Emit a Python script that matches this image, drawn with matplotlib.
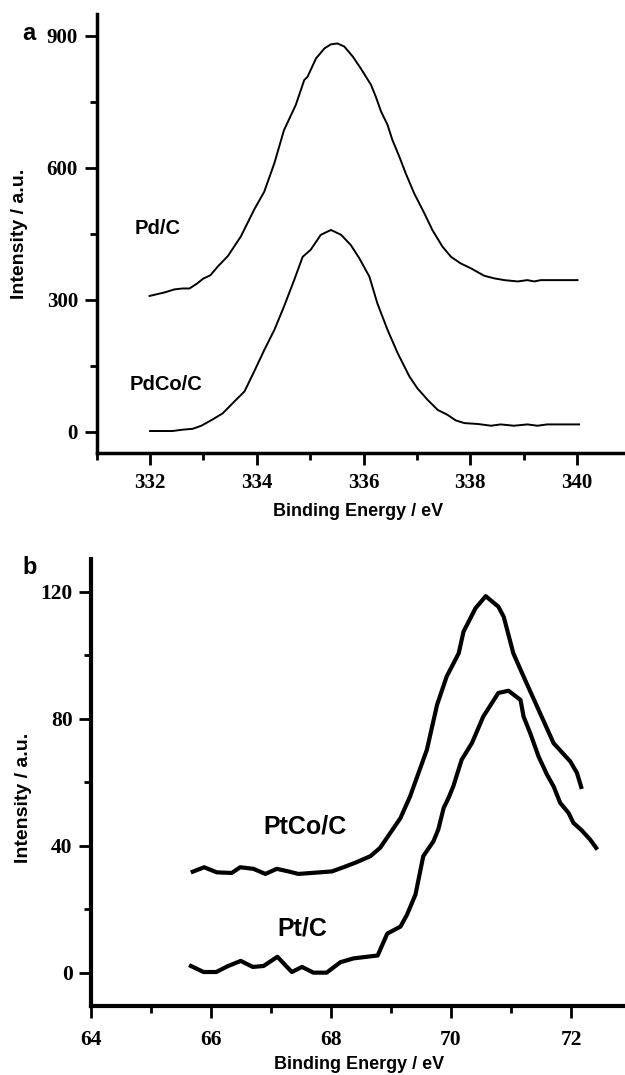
"""
XPS spectra of Pd 3d (panel a) and Pt 4f (panel b) for carbon supported catalysts
"""
import matplotlib
matplotlib.use("Agg")
import matplotlib.pyplot as plt
from matplotlib.ticker import MultipleLocator

# Panel a: Pd 3d region
pd_c_energy = [331.99, 332.27, 332.46, 332.61, 332.74, 332.89, 332.99, 333.13, 333.27, 333.46,
               333.70, 333.95, 334.14, 334.33, 334.51, 334.73, 334.89, 334.95, 335.11, 335.27,
               335.39, 335.51, 335.64, 335.80, 335.95, 336.14, 336.23, 336.33, 336.45, 336.54,
               336.67, 336.79, 336.95, 337.14, 337.29, 337.48, 337.64, 337.82, 338.01, 338.26,
               338.45, 338.64, 338.89, 339.07, 339.20, 339.32, 340.01]
pd_c_intensity = [309, 317, 324, 326, 326, 338, 348, 356, 376, 400,
                  444, 505, 546, 611, 686, 743, 800, 807, 849, 872,
                  881, 883, 876, 853, 826, 789, 762, 728, 698, 664,
                  626, 588, 542, 497, 459, 421, 398, 383, 372, 355,
                  349, 345, 342, 345, 342, 345, 345]

pdco_c_energy = [332.00, 332.42, 332.61, 332.80, 332.96, 333.14, 333.36, 333.58, 333.77, 333.95,
                 334.14, 334.33, 334.51, 334.70, 334.86, 335.01, 335.20, 335.39, 335.58, 335.76,
                 335.92, 336.11, 336.26, 336.45, 336.64, 336.86, 337.01, 337.20, 337.39, 337.57,
                 337.73, 337.89, 338.14, 338.39, 338.57, 338.82, 339.07, 339.26, 339.44, 340.04]
pdco_c_intensity = [2, 2, 5, 7, 14, 26, 42, 69, 92, 137,
                    186, 232, 285, 345, 398, 414, 448, 459, 448, 425,
                    395, 353, 292, 232, 179, 126, 99, 73, 50, 39,
                    26, 20, 18, 14, 17, 14, 17, 14, 17, 17]

# Panel b: Pt 4f region
ptco_c_energy = [65.70, 65.89, 66.10, 66.35, 66.49, 66.71, 66.91, 67.10, 67.29, 67.46,
                 67.82, 68.02, 68.21, 68.43, 68.66, 68.82, 68.99, 69.16, 69.32, 69.43,
                 69.60, 69.77, 69.93, 70.13, 70.21, 70.41, 70.58, 70.79, 70.88, 71.04,
                 71.21, 71.46, 71.71, 71.99, 72.10, 72.17]
ptco_c_intensity = [31.8, 33.2, 31.6, 31.4, 33.2, 32.7, 31.1, 32.7, 31.9, 31.1,
                    31.6, 31.9, 33.2, 34.8, 36.7, 39.3, 44.0, 48.7, 55.5, 61.3,
                    70.2, 84.4, 93.3, 100.6, 107.4, 114.8, 118.6, 115.3, 112.1, 100.6,
                    93.3, 82.8, 72.3, 66.5, 62.9, 58.5]

pt_c_energy = [65.67, 65.88, 66.09, 66.29, 66.50, 66.70, 66.88, 67.11, 67.35, 67.52,
               67.71, 67.93, 68.16, 68.38, 68.60, 68.78, 68.94, 69.16, 69.27, 69.41,
               69.54, 69.71, 69.79, 69.88, 69.96, 70.04, 70.18, 70.35, 70.54, 70.79,
               70.96, 71.16, 71.21, 71.32, 71.46, 71.60, 71.71, 71.82, 71.96, 72.04,
               72.18, 72.32, 72.42]
pt_c_intensity = [2.1, 0.2, 0.2, 2.1, 3.7, 1.8, 2.1, 5.0, 0.2, 1.8,
                  0.0, 0.0, 3.3, 4.5, 5.0, 5.4, 12.3, 14.5, 18.3, 24.6,
                  36.7, 41.4, 45.1, 51.9, 55.0, 58.7, 67.1, 72.3, 80.7, 88.1,
                  88.8, 85.9, 80.7, 75.5, 68.1, 62.4, 58.7, 53.5, 50.3, 47.2,
                  44.8, 41.9, 39.3]

TICK_FONT = "Liberation Serif"
LABEL_FONT = "Liberation Sans"


def style_axes(ax, spine_w, tick_size, xpad, ypad):
    """Origin-like axes: only left and bottom spines, outward ticks"""
    ax.spines["top"].set_visible(False)
    ax.spines["right"].set_visible(False)
    for side in ("left", "bottom"):
        ax.spines[side].set_linewidth(spine_w)
    ax.tick_params(which="major", direction="out", length=8.5, width=2.0,
                   labelsize=tick_size)
    ax.tick_params(which="minor", direction="out", length=5.0, width=2.0)
    ax.tick_params(axis="x", which="major", pad=xpad)
    ax.tick_params(axis="y", which="major", pad=ypad)
    for lbl in ax.get_xticklabels() + ax.get_yticklabels():
        lbl.set_fontfamily(TICK_FONT)
        lbl.set_fontweight("bold")


def add_axis_labels(ax, xlabel_pos, ylabel_pos):
    ax.set_xlabel("Binding Energy / eV", fontfamily=LABEL_FONT, fontweight="bold",
                  fontsize=13)
    ax.set_ylabel("Intensity / a.u.", fontfamily=LABEL_FONT, fontweight="bold",
                  fontsize=14)
    ax.xaxis.set_label_coords(*xlabel_pos)
    ax.yaxis.set_label_coords(*ylabel_pos)


fig = plt.figure(figsize=(6.25, 10.75), dpi=100)

# ---- panel a ----
ax_a = fig.add_axes([0.1547, 0.5786, 0.8453, 0.4084])
ax_a.plot(pd_c_energy, pd_c_intensity, color="black", lw=1.4)
ax_a.plot(pdco_c_energy, pdco_c_intensity, color="black", lw=1.4)
ax_a.set_xlim(331.0, 340.9)
ax_a.set_ylim(-48, 950)
ax_a.set_xticks([332, 334, 336, 338, 340])
ax_a.set_yticks([0, 300, 600, 900])
ax_a.xaxis.set_minor_locator(MultipleLocator(1))
ax_a.yaxis.set_minor_locator(MultipleLocator(150))
style_axes(ax_a, 2.5, 15, xpad=6, ypad=5)
add_axis_labels(ax_a, (0.495, -0.113), (-0.130, 0.499))

fig.text(29 / 625, 1 - 34 / 1075, "a", fontfamily=LABEL_FONT, fontweight="bold",
         fontsize=17, ha="center", va="center")
fig.text(135 / 625, 1 - 228 / 1075, "Pd/C", fontfamily=LABEL_FONT, fontweight="bold",
         fontsize=14.5, ha="left", va="center")
fig.text(130 / 625, 1 - 385 / 1075, "PdCo/C", fontfamily=LABEL_FONT, fontweight="bold",
         fontsize=14.5, ha="left", va="center")

# ---- panel b ----
ax_b = fig.add_axes([0.1451, 0.0642, 0.8549, 0.4155])
ax_b.plot(ptco_c_energy, ptco_c_intensity, color="black", lw=3.0)
ax_b.plot(pt_c_energy, pt_c_intensity, color="black", lw=3.0)
ax_b.set_xlim(64, 72.9)
ax_b.set_ylim(-10.5, 130.2)
ax_b.set_xticks([64, 66, 68, 70, 72])
ax_b.set_yticks([0, 40, 80, 120])
ax_b.xaxis.set_minor_locator(MultipleLocator(1))
ax_b.yaxis.set_minor_locator(MultipleLocator(20))
style_axes(ax_b, 3.0, 15.5, xpad=8.5, ypad=4.5)
add_axis_labels(ax_b, (0.502, -0.112), (-0.110, 0.467))

fig.text(30 / 625, 1 - 567 / 1075, "b", fontfamily=LABEL_FONT, fontweight="bold",
         fontsize=17, ha="center", va="center")
fig.text(263 / 625, 1 - 827 / 1075, "PtCo/C", fontfamily=LABEL_FONT, fontweight="bold",
         fontsize=18, ha="left", va="center")
fig.text(277 / 625, 1 - 928 / 1075, "Pt/C", fontfamily=LABEL_FONT, fontweight="bold",
         fontsize=18, ha="left", va="center")

fig.savefig("out.png", dpi=100)
